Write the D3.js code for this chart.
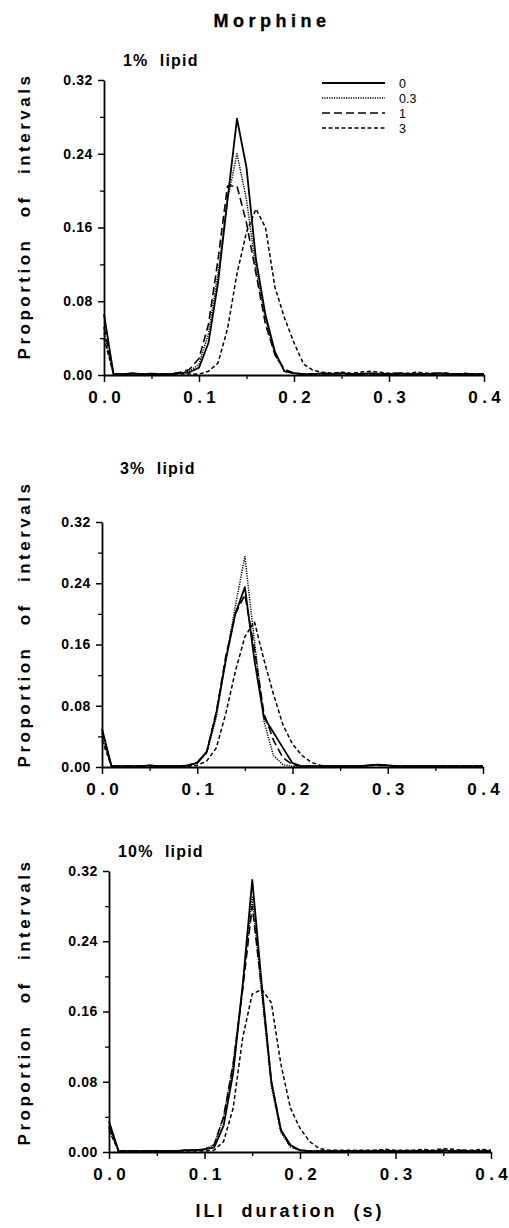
<!DOCTYPE html>
<html>
<head>
<meta charset="utf-8">
<script src="https://cdn.jsdelivr.net/npm/d3@7"></script>
<style>
html,body{margin:0;padding:0;background:#fff;}
svg{display:block;}
text{font-family:"Liberation Sans",Arial,sans-serif;fill:#000;}
</style>
</head>
<body>
<script>
// ---------- DATA ----------
const xBins = [0.00,0.01,0.02,0.03,0.04,0.05,0.06,0.07,0.08,0.09,0.10,0.11,0.12,0.13,0.14,0.15,0.16,0.17,0.18,0.19,0.20,
               0.21,0.22,0.23,0.24,0.25,0.26,0.27,0.28,0.29,0.30,0.31,0.32,0.33,0.34,0.35,0.36,0.37,0.38,0.39,0.40];
const doseLabels = ["0","0.3","1","3"];
const panelTitles = ["1%  lipid","3%  lipid","10%  lipid"];
const yTickValues = [0.00,0.08,0.16,0.24,0.32];
const yMinorTicks = [0.04,0.12,0.20,0.28];
const xTickValues = [0.0,0.1,0.2,0.3,0.4];
const xMinorTicks = [0.05,0.15,0.25,0.35];

// 1% lipid
const lipid1_dose0  = [0.066,0.001,0.001,0.002,0.001,0.001,0.001,0.001,0.002,0.003,0.008,0.035,0.100,0.190,0.278,0.225,0.125,0.065,0.025,0.004,0.002,0.001,0.001,0.002,0.001,0.002,0.001,0.001,0.002,0.001,0.001,0.002,0.001,0.001,0.001,0.002,0.001,0.001,0.001,0.001,0.001];
const lipid1_dose03 = [0.045,0.001,0.001,0.001,0.001,0.002,0.001,0.001,0.002,0.004,0.012,0.045,0.110,0.190,0.240,0.190,0.115,0.060,0.022,0.004,0.002,0.001,0.001,0.001,0.001,0.002,0.001,0.001,0.001,0.001,0.001,0.001,0.001,0.002,0.001,0.001,0.001,0.001,0.001,0.001,0.001];
const lipid1_dose1  = [0.052,0.001,0.001,0.001,0.001,0.001,0.001,0.001,0.003,0.006,0.018,0.055,0.125,0.205,0.205,0.165,0.110,0.055,0.022,0.006,0.002,0.001,0.001,0.001,0.002,0.001,0.001,0.001,0.001,0.002,0.001,0.001,0.001,0.001,0.001,0.001,0.002,0.001,0.001,0.001,0.001];
const lipid1_dose3  = [0.040,0.001,0.001,0.001,0.001,0.001,0.001,0.001,0.001,0.001,0.001,0.004,0.013,0.050,0.110,0.155,0.180,0.160,0.095,0.062,0.035,0.012,0.005,0.003,0.002,0.003,0.002,0.003,0.004,0.003,0.002,0.002,0.002,0.003,0.002,0.002,0.002,0.001,0.002,0.001,0.001];

// 3% lipid
const lipid3_dose0  = [0.050,0.001,0.001,0.001,0.001,0.002,0.001,0.001,0.001,0.002,0.005,0.020,0.070,0.140,0.200,0.235,0.140,0.065,0.045,0.025,0.005,0.001,0.001,0.001,0.001,0.001,0.001,0.001,0.002,0.003,0.002,0.001,0.001,0.001,0.001,0.001,0.001,0.001,0.001,0.001,0.001];
const lipid3_dose03 = [0.040,0.001,0.001,0.001,0.001,0.002,0.001,0.001,0.001,0.002,0.006,0.018,0.065,0.140,0.210,0.275,0.165,0.060,0.015,0.003,0.001,0.001,0.001,0.001,0.001,0.001,0.001,0.001,0.002,0.003,0.002,0.001,0.001,0.001,0.001,0.001,0.001,0.001,0.001,0.001,0.001];
const lipid3_dose1  = [0.045,0.001,0.001,0.001,0.001,0.002,0.001,0.001,0.001,0.002,0.006,0.020,0.072,0.145,0.200,0.225,0.155,0.070,0.035,0.012,0.003,0.001,0.001,0.001,0.001,0.001,0.001,0.001,0.002,0.002,0.002,0.001,0.001,0.001,0.001,0.001,0.001,0.001,0.001,0.001,0.001];
const lipid3_dose3  = [0.035,0.001,0.001,0.001,0.001,0.001,0.001,0.001,0.001,0.001,0.002,0.008,0.025,0.070,0.125,0.170,0.190,0.140,0.095,0.055,0.030,0.015,0.006,0.002,0.001,0.001,0.001,0.001,0.002,0.003,0.002,0.001,0.001,0.001,0.001,0.001,0.001,0.001,0.001,0.001,0.001];

// 10% lipid
const lipid10_dose0  = [0.035,0.001,0.001,0.001,0.001,0.001,0.001,0.001,0.002,0.002,0.003,0.005,0.030,0.090,0.190,0.310,0.190,0.080,0.025,0.008,0.002,0.001,0.001,0.001,0.001,0.001,0.001,0.001,0.001,0.001,0.001,0.001,0.001,0.001,0.001,0.002,0.001,0.001,0.001,0.001,0.001];
const lipid10_dose03 = [0.030,0.001,0.001,0.001,0.001,0.001,0.001,0.001,0.002,0.002,0.003,0.008,0.040,0.100,0.190,0.290,0.180,0.075,0.022,0.006,0.002,0.001,0.001,0.001,0.001,0.001,0.001,0.001,0.002,0.001,0.001,0.001,0.002,0.001,0.001,0.002,0.001,0.001,0.001,0.002,0.001];
const lipid10_dose1  = [0.028,0.001,0.001,0.001,0.001,0.001,0.001,0.001,0.002,0.002,0.003,0.008,0.040,0.100,0.185,0.280,0.185,0.080,0.025,0.006,0.002,0.001,0.001,0.001,0.001,0.001,0.001,0.001,0.001,0.002,0.001,0.001,0.001,0.002,0.001,0.001,0.001,0.002,0.001,0.001,0.001];
const lipid10_dose3  = [0.025,0.001,0.001,0.001,0.001,0.001,0.001,0.001,0.001,0.001,0.001,0.002,0.012,0.050,0.130,0.180,0.185,0.170,0.100,0.050,0.027,0.012,0.004,0.002,0.002,0.002,0.002,0.002,0.002,0.003,0.002,0.002,0.002,0.003,0.002,0.004,0.003,0.002,0.002,0.003,0.002];

// ---------- STYLE ----------
const lineStyles = [
  {width:1.8, dash:null},
  {width:1.5, dash:"1.2,1.2"},
  {width:1.6, dash:"8,4"},
  {width:1.5, dash:"4,2.5"}
];

const W = 509, H = 1228;
const svg = d3.select("body").append("svg").attr("width", W).attr("height", H);

svg.append("text")
  .attr("x", 272).attr("y", 27)
  .attr("text-anchor", "middle")
  .style("font-size", "18px").style("font-weight", "bold").style("letter-spacing", "4.5px")
  .style("stroke", "#000").style("stroke-width", "0.3px")
  .text("Morphine");

const panels = [
  {title: panelTitles[0], series:[lipid1_dose0,lipid1_dose03,lipid1_dose1,lipid1_dose3],
   x0:104, x1:484, yTop:80, yBot:375, titleX:123, titleY:66, ylabCY:216, legend:true},
  {title: panelTitles[1], series:[lipid3_dose0,lipid3_dose03,lipid3_dose1,lipid3_dose3],
   x0:102, x1:483, yTop:522, yBot:767, titleX:120, titleY:474, ylabCY:624, legend:false},
  {title: panelTitles[2], series:[lipid10_dose0,lipid10_dose03,lipid10_dose1,lipid10_dose3],
   x0:109, x1:491, yTop:871, yBot:1152, titleX:118, titleY:857, ylabCY:1002, legend:false}
];

panels.forEach(p => {
  const g = svg.append("g");
  const x = d3.scaleLinear().domain([0, 0.4]).range([p.x0, p.x1]);
  const y = d3.scaleLinear().domain([0, 0.32]).range([p.yBot, p.yTop]);

  // panel title
  g.append("text").attr("x", p.titleX).attr("y", p.titleY)
    .style("font-size", "16px").style("font-weight", "bold").style("letter-spacing", "1.2px")
    .style("white-space", "pre")
    .text(p.title);

  // y axis
  const yAx = g.append("g").attr("transform", `translate(${p.x0},0)`)
    .call(d3.axisLeft(y).tickValues(yTickValues).tickSize(6).tickSizeOuter(0).tickPadding(5)
      .tickFormat(d3.format(".2f")));
  yAx.selectAll("text").style("font-size", "14px").style("font-weight", "bold")
    .style("letter-spacing", "0.6px")
    .style("font-family", "'Liberation Sans',Arial,sans-serif").attr("fill", "#000");
  yAx.select(".domain").attr("stroke-width", 1.8);
  yAx.selectAll(".tick line").attr("stroke-width", 1.5);
  const yMin = g.append("g").attr("transform", `translate(${p.x0},0)`)
    .call(d3.axisLeft(y).tickValues(yMinorTicks).tickSize(4).tickSizeOuter(0).tickFormat(""));
  yMin.select(".domain").remove();
  yMin.selectAll(".tick line").attr("stroke-width", 1.3);

  // x axis
  const fmtX = d3.format(".1f");
  const xAx = g.append("g").attr("transform", `translate(0,${p.yBot})`)
    .call(d3.axisBottom(x).tickValues(xTickValues).tickSize(7).tickSizeOuter(0).tickPadding(9)
      .tickFormat(fmtX));
  xAx.selectAll(".tick text").each(function(d) {
    const s = fmtX(d);
    const t = d3.select(this).text("");
    t.append("tspan").style("letter-spacing", "4.5px").text(s.slice(0, -1));
    t.append("tspan").style("letter-spacing", "0px").text(s.slice(-1));
  });
  xAx.selectAll("text").style("font-size", "17px").style("font-weight", "bold")
    .style("font-family", "'Liberation Sans',Arial,sans-serif").attr("fill", "#000");
  xAx.select(".domain").attr("stroke-width", 1.8);
  xAx.selectAll(".tick line").attr("stroke-width", 1.5);
  const xMin = g.append("g").attr("transform", `translate(0,${p.yBot})`)
    .call(d3.axisBottom(x).tickValues(xMinorTicks).tickSize(4).tickSizeOuter(0).tickFormat(""));
  xMin.select(".domain").remove();
  xMin.selectAll(".tick line").attr("stroke-width", 1.3);

  // y label
  g.append("text")
    .attr("transform", `translate(30,${p.ylabCY}) rotate(-90)`)
    .attr("text-anchor", "middle")
    .style("font-size", "17px").style("font-weight", "bold")
    .style("letter-spacing", "3.5px").style("word-spacing", "12px")
    .text("Proportion of intervals");

  // lines
  const line = d3.line().x((d, i) => x(xBins[i])).y(d => y(d));
  p.series.forEach((s, k) => {
    g.append("path").datum(s)
      .attr("d", line)
      .attr("fill", "none").attr("stroke", "#000")
      .attr("stroke-width", lineStyles[k].width)
      .attr("stroke-dasharray", lineStyles[k].dash)
      .attr("stroke-linejoin", "round");
  });

  // legend
  if (p.legend) {
    const lg = g.append("g");
    doseLabels.forEach((lab, k) => {
      const yy = 83 + k * 15;
      lg.append("line").attr("x1", 322).attr("x2", 385).attr("y1", yy).attr("y2", yy)
        .attr("stroke", "#000").attr("stroke-width", lineStyles[k].width)
        .attr("stroke-dasharray", lineStyles[k].dash);
      lg.append("text").attr("x", 399).attr("y", yy + 4.5)
        .style("font-size", "12.5px").text(lab);
    });
  }
});

svg.append("text")
  .attr("x", 290).attr("y", 1217)
  .attr("text-anchor", "middle")
  .style("font-size", "18px").style("font-weight", "bold")
  .style("letter-spacing", "3px").style("word-spacing", "8px")
  .text("ILI duration (s)");
</script>
</body>
</html>
